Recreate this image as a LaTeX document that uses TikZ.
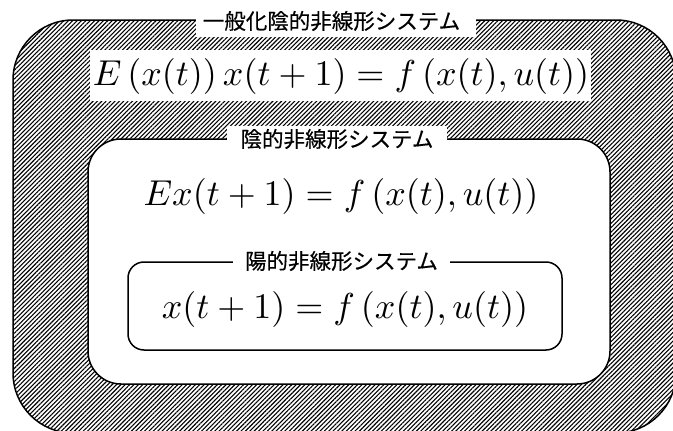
\documentclass[tikz,border=0pt]{standalone}
\usepackage{fontspec}
\newfontfamily\jpfont[BoldFont={Noto Sans CJK JP},BoldFeatures={FakeBold=0.4}]{Noto Sans CJK JP}
\usetikzlibrary{patterns.meta}
\tikzset{
  hatchbox/.style={draw=black, line width=1.5pt, rounded corners=60pt,
    pattern={Lines[angle=45,distance=3.1pt,line width=1.1pt]}, pattern color=black,
    minimum width=663pt, minimum height=413pt, inner sep=0pt},
  midbox/.style={draw=black, line width=1.5pt, rounded corners=33pt, fill=white,
    minimum width=522pt, minimum height=245pt, inner sep=0pt},
  smallbox/.style={draw=black, line width=1.5pt, rounded corners=16pt, fill=white,
    minimum width=434pt, minimum height=88pt, inner sep=0pt},
  jplabel/.style={fill=white, inner sep=0pt, font=\jpfont\bfseries\fontsize{21.5}{24}\selectfont},
  formula/.style={inner sep=0pt, scale=3.6},
  whitepad/.style={fill=white, inner sep=0pt},
}
\begin{document}
\begin{tikzpicture}[x=1pt,y=-1pt]
\useasboundingbox (0,0) rectangle (673,431);
\node[hatchbox] (outer) at (344.5,226.5) {};
\node[whitepad, minimum width=280pt, minimum height=40pt] (outerpad) at (336,17) {};
\node[jplabel] (outerlabel) at (331.5,21) {一般化陰的非線形システム};
\node[whitepad, minimum width=501pt, minimum height=51pt] (f1pad) at (340.5,75.5) {};
\node[formula] (f1) at (341,76) {$E\left(x(t)\right)x(t+1)=f\left(x(t),u(t)\right)$};
\node[midbox] (mid) at (349,261.5) {};
\node[jplabel, minimum width=220pt, minimum height=26pt] (midlabel) at (337,139) {陰的非線形システム};
\node[formula] (f2) at (341,196) {$Ex(t+1)=f\left(x(t),u(t)\right)$};
\node[smallbox] (inner) at (345,306) {};
\node[jplabel, minimum width=217pt, minimum height=24pt] (innerlabel) at (341.5,261) {陽的非線形システム};
\node[formula] (f3) at (345,309) {$x(t+1)=f\left(x(t),u(t)\right)$};
\end{tikzpicture}
\end{document}
